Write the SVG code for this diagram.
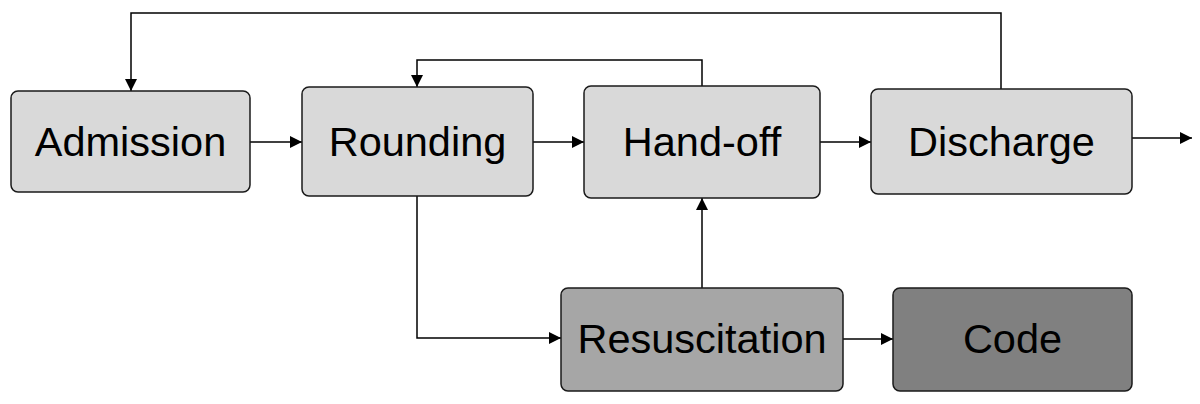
<svg xmlns="http://www.w3.org/2000/svg" width="1200" height="404" viewBox="0 0 1200 404">
<defs>
<style>
.box{stroke:#1a1a1a;stroke-width:1.5}
.l1{fill:#d9d9d9}
.l2{fill:#a6a6a6}
.l3{fill:#808080}
.t{font-family:"Liberation Sans",Arial,sans-serif;font-size:41.5px;fill:#000;text-anchor:middle}
.c{fill:none;stroke:#000;stroke-width:1.5}
</style>
<marker id="ah" markerWidth="12" markerHeight="12" refX="12" refY="6" orient="auto" markerUnits="userSpaceOnUse">
<path d="M0,0 L12,6 L0,12 Z" fill="#000"/>
</marker>
</defs>
<rect width="1200" height="404" fill="#fff"/>
<g id="connectors">
<path class="c" d="M1001,89 V13 H131 V91" marker-end="url(#ah)"/>
<path class="c" d="M702,86 V60 H417 V87" marker-end="url(#ah)"/>
<path class="c" d="M250,142 H302" marker-end="url(#ah)"/>
<path class="c" d="M533,142 H584" marker-end="url(#ah)"/>
<path class="c" d="M820,142 H871" marker-end="url(#ah)"/>
<path class="c" d="M1132,138 H1192" marker-end="url(#ah)"/>
<path class="c" d="M417,196 V338 H561" marker-end="url(#ah)"/>
<path class="c" d="M702,288 V198" marker-end="url(#ah)"/>
<path class="c" d="M843,339 H893" marker-end="url(#ah)"/>
</g>
<g id="admission"><rect class="box l1" x="11" y="91" width="239" height="101" rx="7"/><text class="t" x="130.5" y="155.5">Admission</text></g>
<g id="rounding"><rect class="box l1" x="302" y="87" width="231" height="109" rx="7"/><text class="t" x="417.5" y="155.5">Rounding</text></g>
<g id="handoff"><rect class="box l1" x="584" y="86" width="236" height="112" rx="7"/><text class="t" x="702" y="156">Hand-off</text></g>
<g id="discharge"><rect class="box l1" x="871" y="89" width="261" height="105" rx="7"/><text class="t" x="1001.5" y="155.5">Discharge</text></g>
<g id="resuscitation"><rect class="box l2" x="561" y="288" width="282" height="103" rx="7"/><text class="t" x="702" y="353">Resuscitation</text></g>
<g id="code"><rect class="box l3" x="893" y="288" width="239" height="103" rx="7"/><text class="t" x="1012.5" y="353">Code</text></g>
</svg>
